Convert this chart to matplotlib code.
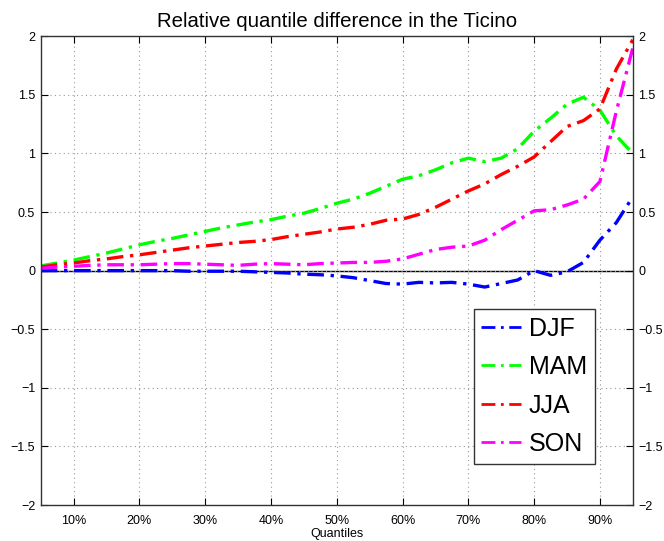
import numpy as np
import matplotlib
matplotlib.use("Agg")
import matplotlib.pyplot as plt
from matplotlib.ticker import FuncFormatter

plt.rcParams['font.family'] = ['Liberation Sans', 'DejaVu Sans']

# quantile levels (percent) and relative differences per season
quantiles = [5, 7.5, 10, 12.5, 15, 17.5, 20, 22.5, 25, 27.5, 30, 32.5, 35, 37.5,
             40, 42.5, 45, 47.5, 50, 52.5, 55, 57.5, 60, 62.5, 65, 67.5, 70, 72.5,
             75, 77.5, 80, 82.5, 85, 87.5, 90, 92.5, 95]

djf = [0.0, 0.0, 0.0, 0.0, 0.0, 0.0, 0.0, 0.0, 0.0, -0.005, -0.005, -0.005, -0.005, -0.01,
       -0.015, -0.02, -0.03, -0.035, -0.045, -0.06, -0.085, -0.11, -0.115, -0.10, -0.105,
       -0.10, -0.115, -0.14, -0.11, -0.08, 0.0, -0.04, -0.01, 0.07, 0.26, 0.41, 0.63]

mam = [0.04, 0.065, 0.09, 0.12, 0.15, 0.185, 0.22, 0.25, 0.275, 0.305, 0.335, 0.365, 0.39,
       0.415, 0.435, 0.465, 0.49, 0.53, 0.575, 0.61, 0.66, 0.72, 0.78, 0.81, 0.86, 0.92,
       0.96, 0.93, 0.96, 1.04, 1.19, 1.30, 1.42, 1.48, 1.37, 1.15, 1.0]

jja = [0.03, 0.05, 0.065, 0.085, 0.10, 0.12, 0.135, 0.155, 0.175, 0.195, 0.21, 0.225, 0.24,
       0.25, 0.265, 0.29, 0.31, 0.33, 0.355, 0.37, 0.395, 0.43, 0.44, 0.48, 0.54, 0.61,
       0.68, 0.74, 0.82, 0.89, 0.97, 1.10, 1.23, 1.28, 1.38, 1.72, 1.97]

son = [0.02, 0.03, 0.037, 0.045, 0.05, 0.05, 0.05, 0.055, 0.06, 0.06, 0.055, 0.05, 0.045,
       0.055, 0.06, 0.055, 0.05, 0.06, 0.065, 0.07, 0.07, 0.08, 0.10, 0.14, 0.18, 0.20,
       0.21, 0.26, 0.35, 0.43, 0.51, 0.52, 0.56, 0.61, 0.76, 1.36, 1.9]

seasons = ['DJF', 'MAM', 'JJA', 'SON']
colors = ['#0000ff', '#00ff00', '#ff0000', '#ff00ff']

fig = plt.figure(figsize=(6.64, 5.41), dpi=100)
ax = fig.add_axes([0.0613, 0.0665, 0.8917, 0.8665])

dash = (0, (5, 2, 1, 2))
for name, vals, c in zip(seasons, [djf, mam, jja, son], colors):
    ax.plot(quantiles, vals, color=c, lw=2.4, linestyle=dash, label=name)

ax.axhline(0, color='black', lw=1.0, zorder=1)

ax.set_xlim(5, 95)
ax.set_ylim(-2, 2)
ax.set_xticks(np.arange(10, 91, 10))
ax.set_yticks(np.arange(-2, 2.01, 0.5))
ax.xaxis.set_major_formatter(FuncFormatter(lambda v, p: f"{int(v)}%"))
ax.yaxis.set_major_formatter(FuncFormatter(
    lambda v, p: (f"{v:g}").replace('-', '\u2212')))

ax.grid(True, linestyle=(0, (1, 3)), color='#999999', lw=0.8)
ax.tick_params(direction='in', length=5, labelsize=9, top=True, right=True,
               labelright=True, width=0.8)
ax.tick_params(axis='x', pad=7)
ax.tick_params(axis='y', pad=4)
for s in ax.spines.values():
    s.set_linewidth(1.0)
    s.set_color('#333333')

ax.set_xlabel('Quantiles', fontsize=9, labelpad=1)
ax.set_title('Relative quantile difference in the Ticino', fontsize=14.7, pad=7)

leg = ax.legend(loc='upper left', bbox_to_anchor=(0.7316, 0.418), fontsize=18,
                fancybox=False, edgecolor='#333333', framealpha=1,
                handlelength=1.6, handletextpad=0.3, labelspacing=0.58,
                borderpad=0.3, borderaxespad=0)
leg.get_frame().set_linewidth(1.0)
for h in leg.get_lines():
    h.set_linewidth(2.0)

fig.savefig('out.png', dpi=100)
